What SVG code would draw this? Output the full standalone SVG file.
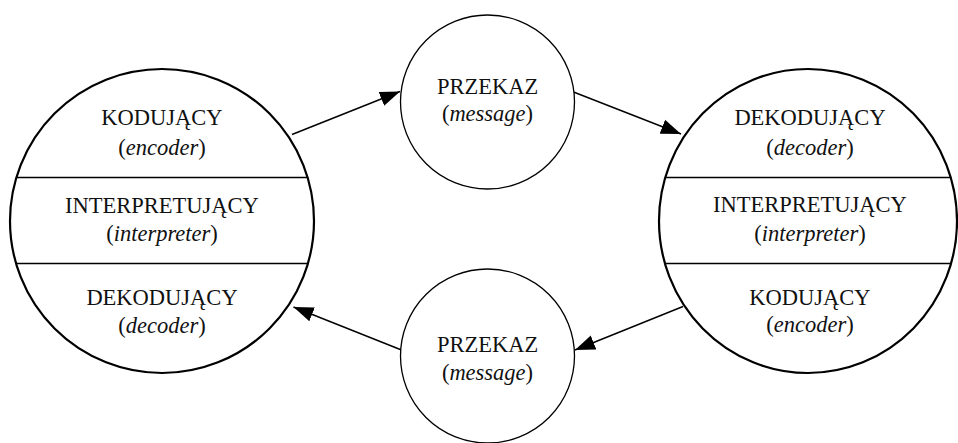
<svg xmlns="http://www.w3.org/2000/svg" width="958" height="443" viewBox="0 0 958 443">
  <defs>
    <marker id="arrow" markerUnits="userSpaceOnUse" markerWidth="21" markerHeight="16" refX="20" refY="8" orient="auto">
      <path d="M0,0.5 L20,8 L0,15.5 z" fill="#000"/>
    </marker>
    <clipPath id="clipLeft"><circle cx="162" cy="221" r="152"/></clipPath>
    <clipPath id="clipRight"><ellipse cx="808" cy="221" rx="149" ry="152"/></clipPath>
  </defs>
  <style>
    .big { fill: #fff; stroke: #000; stroke-width: 2.2; }
    .small { fill: #fff; stroke: #000; stroke-width: 1.3; }
    .divider { stroke: #000; stroke-width: 1.4; }
    .conn { stroke: #000; stroke-width: 1.4; fill: none; marker-end: url(#arrow); }
    text { font-family: "Liberation Serif", "Times New Roman", serif; font-size: 22.5px; fill: #111; text-anchor: middle; }
    .it { font-style: italic; }
  </style>

  <rect width="958" height="443" fill="#fff"/>

  <!-- connectors -->
  <g id="connectors">
    <line class="conn" x1="292" y1="134.5" x2="400" y2="91.5"/>
    <line class="conn" x1="573.5" y1="92" x2="681" y2="134"/>
    <line class="conn" x1="683" y1="306.5" x2="575" y2="350"/>
    <line class="conn" x1="401.5" y1="350" x2="293.5" y2="307"/>
  </g>

  <!-- left participant -->
  <g id="node-left">
    <circle class="big" cx="162" cy="221" r="152"/>
    <g clip-path="url(#clipLeft)">
      <line class="divider" x1="0" y1="177.5" x2="330" y2="177.5"/>
      <line class="divider" x1="0" y1="263.5" x2="330" y2="263.5"/>
    </g>
    <text x="162" y="125">KODUJĄCY</text>
    <text x="162" y="155">(<tspan class="it">encoder</tspan>)</text>
    <text x="162" y="212.5">INTERPRETUJĄCY</text>
    <text x="162" y="241">(<tspan class="it">interpreter</tspan>)</text>
    <text x="162" y="305">DEKODUJĄCY</text>
    <text x="162" y="333">(<tspan class="it">decoder</tspan>)</text>
  </g>

  <!-- message, upper -->
  <g id="node-message-top">
    <circle class="small" cx="487.5" cy="102" r="87"/>
    <text x="487.5" y="93.5">PRZEKAZ</text>
    <text x="487.5" y="121">(<tspan class="it">message</tspan>)</text>
  </g>

  <!-- right participant -->
  <g id="node-right">
    <ellipse class="big" cx="808" cy="221" rx="149" ry="152"/>
    <g clip-path="url(#clipRight)">
      <line class="divider" x1="650" y1="177.5" x2="958" y2="177.5"/>
      <line class="divider" x1="650" y1="263.5" x2="958" y2="263.5"/>
    </g>
    <text x="810" y="125">DEKODUJĄCY</text>
    <text x="810" y="155">(<tspan class="it">decoder</tspan>)</text>
    <text x="810" y="212">INTERPRETUJĄCY</text>
    <text x="810" y="240.5">(<tspan class="it">interpreter</tspan>)</text>
    <text x="810" y="305">KODUJĄCY</text>
    <text x="810" y="332">(<tspan class="it">encoder</tspan>)</text>
  </g>

  <!-- message, lower -->
  <g id="node-message-bottom">
    <circle class="small" cx="487.5" cy="356" r="87"/>
    <text x="487.5" y="352">PRZEKAZ</text>
    <text x="487.5" y="379.5">(<tspan class="it">message</tspan>)</text>
  </g>
</svg>
